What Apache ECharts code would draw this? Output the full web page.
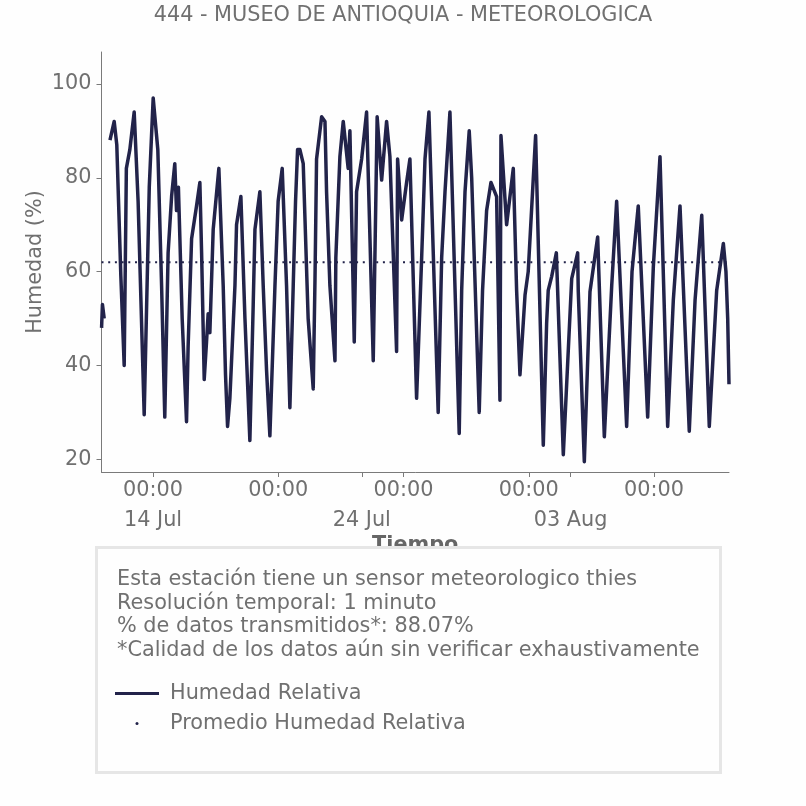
<!DOCTYPE html>
<html>
<head>
<meta charset="utf-8">
<script src="https://cdn.jsdelivr.net/npm/echarts@6/dist/echarts.min.js"></script>
<style>
html,body{margin:0;padding:0;background:#fefefe;}
#chart{width:806px;height:806px;}
</style>
</head>
<body>
<div id="chart"></div>
<script>
// Time stamps (2023, local station time) and relative humidity
const times = [
'07-11 12:50','07-11 13:50','07-11 15:50','07-11 18:00',
'07-11 22:30','07-12 03:20','07-12 06:20','07-12 11:00','07-12 14:50','07-12 17:20','07-12 21:20',
'07-13 02:20','07-13 06:50','07-13 13:50','07-13 19:40',
'07-14 00:10','07-14 05:30','07-14 09:50','07-14 13:30','07-14 17:20','07-14 21:20',
'07-15 01:00','07-15 03:00','07-15 05:10','07-15 09:30','07-15 14:30','07-15 16:20','07-15 20:20',
'07-16 02:00','07-16 05:50','07-16 07:50','07-16 10:50','07-16 13:30','07-16 15:20','07-16 17:20','07-16 21:10',
'07-17 03:40','07-17 08:40','07-17 11:20','07-17 13:40','07-17 16:20','07-17 22:10',
'07-18 00:00','07-18 05:00','07-18 09:40','07-18 15:20','07-18 19:10','07-18 21:10',
'07-19 02:50','07-19 06:40','07-19 10:30','07-19 14:20','07-19 20:10','07-19 23:50',
'07-20 04:30','07-20 09:30','07-20 13:20','07-20 17:10','07-20 19:50','07-20 22:10',
'07-21 00:50','07-21 04:40','07-21 10:20','07-21 16:10','07-21 18:10','07-21 20:00',
'07-22 01:50','07-22 05:40','07-22 07:30','07-22 11:20','07-22 17:10','07-22 18:10','07-22 22:50',
'07-23 02:40','07-23 08:20','07-23 10:20','07-23 15:20','07-23 18:00','07-23 23:50',
'07-24 05:30','07-24 13:10','07-24 17:40','07-24 22:50',
'07-25 04:30','07-25 08:20','07-25 16:00','07-25 17:10','07-25 21:50',
'07-26 03:30','07-26 07:20','07-26 15:00','07-26 20:50',
'07-27 00:40','07-27 05:10','07-27 15:50','07-27 19:50','07-27 23:40',
'07-28 05:20','07-28 16:00','07-28 18:50','07-28 22:40',
'07-29 03:30','07-29 06:20','07-29 15:00','07-29 18:50','07-29 23:30',
'07-30 04:30','07-30 11:00','07-30 14:50','07-30 16:00','07-30 22:30',
'07-31 06:10','07-31 10:00','07-31 13:50','07-31 19:40','07-31 23:20',
'08-01 07:50','08-01 16:40','08-01 20:30','08-01 22:20',
'08-02 02:20','08-02 07:40','08-02 15:40',
'08-03 01:20','08-03 08:10','08-03 08:50','08-03 15:50','08-03 22:20',
'08-04 07:10','08-04 14:50','08-04 23:20',
'08-05 05:00','08-05 16:30','08-05 22:40',
'08-06 05:50','08-06 16:40','08-06 23:10',
'08-07 06:50','08-07 15:40','08-07 22:10',
'08-08 05:50','08-08 16:30','08-08 23:10',
'08-09 06:50','08-09 15:30',
'08-10 00:00','08-10 07:40','08-10 10:40','08-10 12:40','08-10 14:10'
];
const humedad = [
48,53,50,null,
88,92,87,59,40,82,86,
94,75,29.5,78,
97,86,57,29,64,76,
83,73,78,50,28,44,67,
74,79,64,37,45,51,47,69,
82,57,38,27,33,57,
70,76,50,24,53,69,
77,57,39,25,57,75,
82,57,31,57,75,86,
86,83,50,35,58,84,
93,92,77,57,41,63,84.5,
92,82,90,45,77,84,
94,41,93,79.5,
92,84.5,43,84,71,
79,84,33,63,
84,94,30,63,77,
94,25.5,56,77,
90,80,30,56,73,
79,76,32.6,89,70,
82,56,38,55,60,
89,23,49,56,
59,64,21,
58.5,64,56,19.5,55.7,
67.4,24.8,57,
75,27,60,
74,29,61,
84.5,27,54,
74,26,54,
72,27,
56,66,60,50,36
];
const promedio = 62.0;

// Axis ticks / labels
const hourTicks = ['07-14 00:00','07-20 00:00','07-26 00:00','08-01 00:00','08-07 00:00'];
const dateTicks = ['07-14 00:00','07-24 00:00','08-03 00:00'];
const dateTickLabels = ['14 Jul','24 Jul','03 Aug'];
const yTicks = [20, 40, 60, 80, 100];
const xLimits = ['07-11 12:45','08-10 14:10'];
const yLimits = [17.3, 106.8];

const titleText = '444 - MUSEO DE ANTIOQUIA - METEOROLOGICA';
const infoLines = [
  'Esta estación tiene un sensor meteorologico thies',
  'Resolución temporal: 1 minuto',
  '% de datos transmitidos*: 88.07%',
  '*Calidad de los datos aún sin verificar exhaustivamente'
];

function parseT(s){
  const [md, hm] = s.split(' ');
  const [M, D] = md.split('-').map(Number);
  const [H, Mi] = hm.split(':').map(Number);
  return Date.UTC(2023, M - 1, D, H, Mi);
}
function pad(n){ return (n < 10 ? '0' : '') + n; }

const xMin = parseT(xLimits[0]), xMax = parseT(xLimits[1]);
const hourTickVals = hourTicks.map(parseT);
const dateTickVals = dateTicks.map(parseT);
const lineData = times.map((t, i) => [parseT(t), humedad[i]]);
const meanData = [[xMin, promedio], [xMax, promedio]];

const FONT = 'DejaVu Sans';
const FS = 20.8;
const GRAY = '#707070';
const AXIS = '#7a7a7a';
const NAVY = '#22234a';

const chart = echarts.init(document.getElementById('chart'), null, {renderer: 'canvas'});
chart.setOption({
  backgroundColor: '#fefefe',
  animation: false,
  textStyle: {fontFamily: FONT},
  title: {
    text: titleText, left: 'center', top: 0,
    textStyle: {fontFamily: FONT, fontSize: FS, fontWeight: 'normal', color: GRAY}
  },
  grid: {left: 101.5, right: 77, top: 52, bottom: 334},
  xAxis: [
    {
      type: 'value', min: xMin, max: xMax, position: 'bottom',
      axisLine: {show: true, lineStyle: {color: AXIS, width: 1}},
      axisTick: {show: true, length: 5, customValues: hourTickVals, lineStyle: {color: AXIS}},
      axisLabel: {
        customValues: hourTickVals, margin: 8, fontSize: FS, color: GRAY, fontFamily: FONT,
        formatter: v => { const d = new Date(v); return pad(d.getUTCHours()) + ':' + pad(d.getUTCMinutes()); }
      },
      splitLine: {show: false},
      name: 'Tiempo', nameLocation: 'middle', nameGap: 63,
      nameTextStyle: {fontSize: FS, fontWeight: 'bold', color: '#666', fontFamily: FONT}
    },
    {
      type: 'value', min: xMin, max: xMax, position: 'bottom', offset: 0,
      axisLine: {show: false},
      axisTick: {show: true, length: 5, customValues: dateTickVals, lineStyle: {color: AXIS}},
      axisLabel: {
        customValues: dateTickVals, margin: 38, fontSize: FS, color: GRAY, fontFamily: FONT,
        formatter: v => { const i = dateTickVals.indexOf(v); return i >= 0 ? dateTickLabels[i] : ''; }
      },
      splitLine: {show: false}
    }
  ],
  yAxis: {
    type: 'value', min: yLimits[0], max: yLimits[1],
    axisLine: {show: true, lineStyle: {color: AXIS, width: 1}},
    axisTick: {show: true, length: 5, customValues: yTicks, lineStyle: {color: AXIS}},
    axisLabel: {customValues: yTicks, margin: 10, fontSize: FS, color: GRAY, fontFamily: FONT},
    splitLine: {show: false},
    name: 'Humedad (%)', nameLocation: 'middle', nameGap: 55, nameMoveOverlap: false,
    nameTextStyle: {fontSize: FS, color: GRAY, fontFamily: FONT}
  },
  legend: [
    {
      data: ['Humedad Relativa'], left: 110, top: 678, orient: 'vertical',
      icon: 'rect', itemWidth: 44, itemHeight: 3, selectedMode: false, z: 200,
      textStyle: {fontSize: FS, color: GRAY, fontFamily: FONT, padding: [0, 0, 0, 6]}
    },
    {
      data: ['Promedio Humedad Relativa'], left: 130.5, top: 708, orient: 'vertical',
      icon: 'circle', itemWidth: 3, itemHeight: 3, selectedMode: false, z: 200,
      textStyle: {fontSize: FS, color: GRAY, fontFamily: FONT, padding: [0, 0, 0, 26.5]}
    }
  ],
  graphic: [
    {
      type: 'rect', z: 100,
      shape: {x: 96.5, y: 547.5, width: 624, height: 225},
      style: {fill: '#fefefe', stroke: '#e6e6e6', lineWidth: 3}
    },
    {
      type: 'text', z: 101, x: 117, y: 568,
      style: {text: infoLines.join('\n'), font: FS + 'px "DejaVu Sans"', fill: GRAY, lineHeight: 23.6}
    }
  ],
  series: [
    {
      name: 'Humedad Relativa', type: 'line', data: lineData,
      showSymbol: false, symbol: 'none', connectNulls: false,
      lineStyle: {color: NAVY, width: 3.5, join: 'round'}, itemStyle: {color: NAVY}, z: 2
    },
    {
      name: 'Promedio Humedad Relativa', type: 'line', data: meanData,
      showSymbol: false, symbol: 'none',
      lineStyle: {color: NAVY, width: 2, type: [2, 4.7]}, itemStyle: {color: NAVY}, z: 3
    }
  ]
});
</script>
</body>
</html>
